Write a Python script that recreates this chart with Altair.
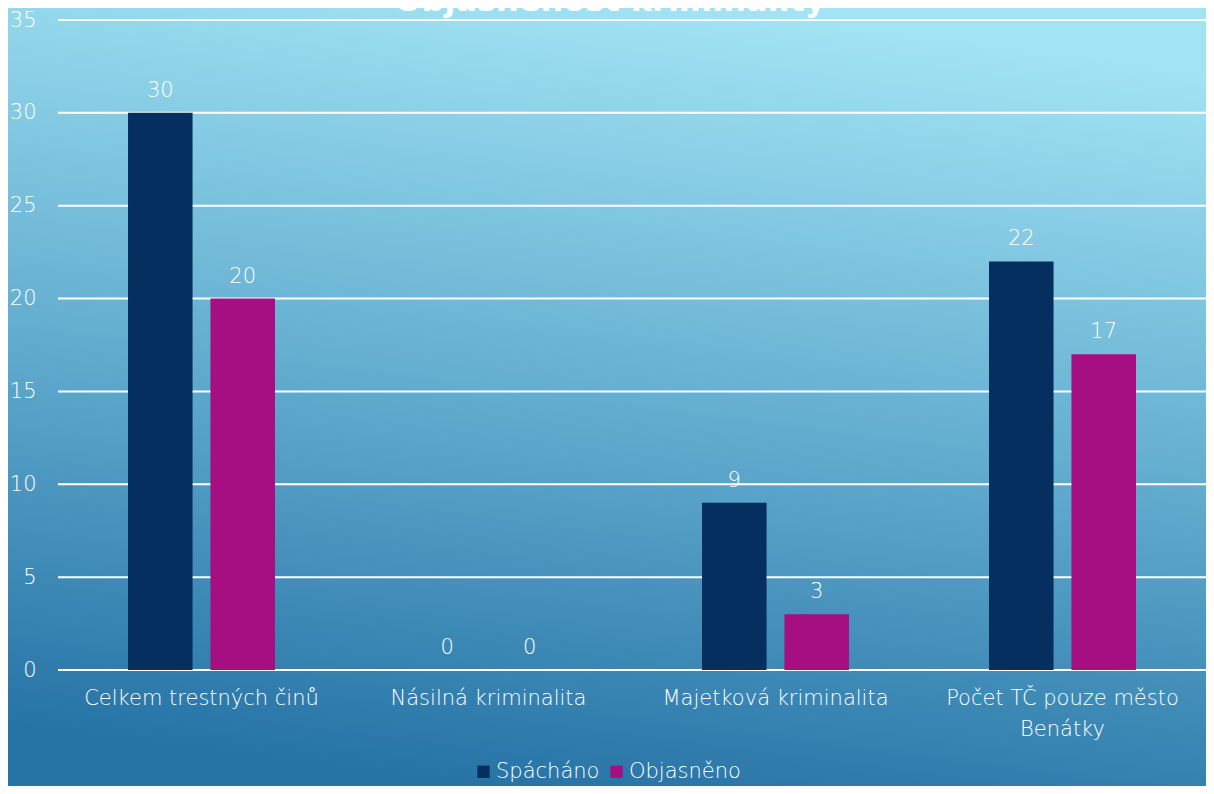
import altair as alt
import pandas as pd

categories = ["Celkem trestných činů", "Násilná kriminalita", "Majetková kriminalita", "Počet TČ pouze město Benátky"]
series = ["Spácháno", "Objasněno"]
spachano = [30, 0, 9, 22]
objasneno = [20, 0, 3, 17]
colors = ["#052F5F", "#A50F82"]
y_ticks = [0, 5, 10, 15, 20, 25, 30, 35]
title_text = "Objasněnost kriminality"

rows = []
for c, a, b in zip(categories, spachano, objasneno):
    rows.append({"cat": c, "series": series[0], "value": a})
    rows.append({"cat": c, "series": series[1], "value": b})
df = pd.DataFrame(rows)

FONT = "DejaVu Sans"
FW = 200
FS = 21
W, H = 1148, 650
PAD = {"left": 50, "top": 12, "right": 0, "bottom": 116}

bg = alt.Chart(pd.DataFrame({"a": [0]})).mark_rect(
    fill=alt.LinearGradient(
        gradient="linear",
        x1=0.6, y1=0, x2=0.4, y2=1,
        stops=[
            alt.GradientStop(offset=0, color="#A2E4F4"),
            alt.GradientStop(offset=0.5, color="#64AED0"),
            alt.GradientStop(offset=1, color="#2673A6"),
        ],
    )
).encode(
    x=alt.value(-50), x2=alt.value(W), y=alt.value(-12), y2=alt.value(H + PAD["bottom"])
)

yscale = alt.Scale(domain=[0, 35], nice=False)
yaxis = alt.Axis(
    values=y_ticks, labelColor="white", labelFont=FONT, labelFontWeight=FW,
    labelFontSize=FS, labelPadding=22, ticks=False, domain=False, grid=False, zindex=1,
)
yenc = alt.Y("value:Q", title=None, scale=yscale, axis=yaxis)

grid = alt.Chart(pd.DataFrame({"value": y_ticks})).mark_rule(color="white", strokeWidth=2).encode(
    y=yenc, x=alt.value(0), x2=alt.value(W)
)

title = alt.Chart(pd.DataFrame({"t": [title_text]})).mark_text(
    font=FONT, fontSize=32, fontWeight="bold", color="white", baseline="alphabetic", align="center"
).encode(x=alt.value(552), y=alt.value(-9), text="t:N")

xenc = alt.X(
    "cat:N", sort=categories, title=None,
    scale=alt.Scale(paddingInner=0, paddingOuter=0),
    axis=alt.Axis(
        labelAngle=0, labelColor="white", labelFont=FONT, labelFontSize=FS, labelFontWeight=FW,
        labelPadding=17, ticks=False, domain=False, grid=False, zindex=1, labelLimit=0,
        labelExpr="datum.label == 'Počet TČ pouze město Benátky' ? ['Počet TČ pouze město', 'Benátky'] : datum.label",
        labelLineHeight=31,
    ),
)
xoff = alt.XOffset(
    "series:N", sort=series,
    scale=alt.Scale(paddingInner=0.2169, paddingOuter=0.8494),
)
color = alt.Color(
    "series:N", sort=series, title=None,
    scale=alt.Scale(domain=series, range=colors),
    legend=alt.Legend(
        orient="none", legendX=415, legendY=741, direction="horizontal",
        symbolType="square", symbolSize=150, symbolStrokeWidth=0, symbolOpacity=1,
        labelColor="white", labelFont=FONT, labelFontWeight=FW, labelFontSize=FS, labelOffset=2,
        columnPadding=6,
    ),
)

bars = alt.Chart(df).mark_bar().encode(x=xenc, xOffset=xoff, y=yenc, color=color)
labels = alt.Chart(df).mark_text(
    font=FONT, fontWeight=FW, fontSize=FS, color="white", baseline="alphabetic", dy=-16
).encode(x=xenc, xOffset=xoff, y=yenc, text="value:Q")

chart = alt.layer(bg, grid, bars, labels, title).properties(
    width=W, height=H, padding=PAD, autosize=alt.AutoSizeParams(type="none")
).configure_view(stroke=None).configure(background="#2673A6")

chart.save("out.html", embed_options={"renderer": "svg", "actions": False})
